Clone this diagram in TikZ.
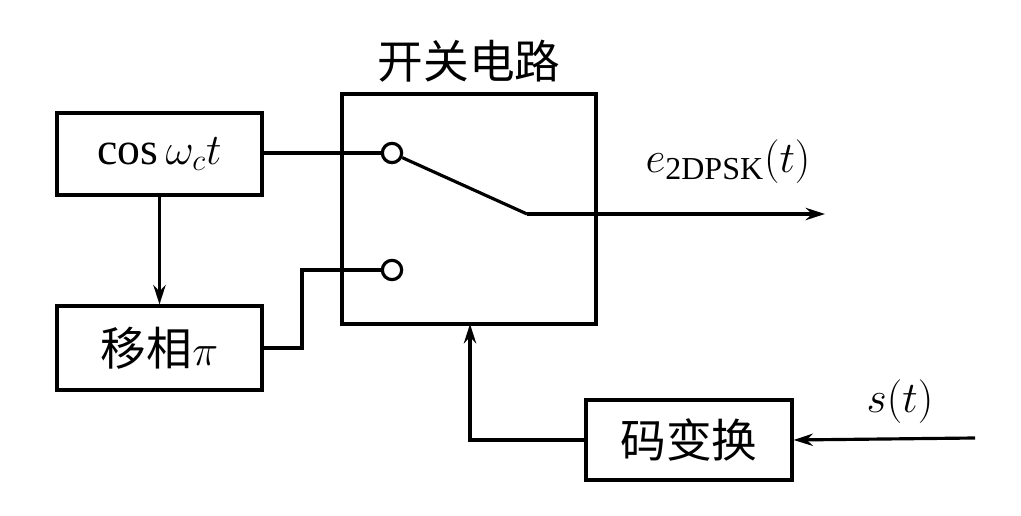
\documentclass[tikz,border=0pt]{standalone}
\usepackage{fontspec}
\setmainfont{Liberation Serif}
\newfontfamily\cjk{Noto Sans CJK SC}
\usetikzlibrary{positioning,arrows.meta}
\tikzset{
  blk/.style={draw, line width=1.8pt, inner sep=0pt},
  wire/.style={line width=1.8pt},
  sig/.style={line width=1.8pt, -{Stealth[length=11pt,width=7pt]}},
  contact/.style={circle, draw, line width=1.8pt, fill=white, minimum size=11pt, inner sep=0pt},
  lbl/.style={font=\fontsize{26}{30}\selectfont}
}
\begin{document}
\begin{tikzpicture}[x=0.02cm,y=-0.02cm]
\useasboundingbox (0,0) rectangle (1021,516);

% Blocks
\node[blk, lbl, minimum width=205*0.02cm, minimum height=82*0.02cm] (carrier) at (159.5,154) {$\cos\omega_c t$};
\node[blk, lbl, minimum width=205*0.02cm, minimum height=84*0.02cm] (shift) at (159.5,348) {{\cjk 移相}$\pi$};
\node[blk, minimum width=254*0.02cm, minimum height=230*0.02cm] (switch) at (469,209) {};
\node[blk, lbl, minimum width=206*0.02cm, minimum height=80*0.02cm] (coder) at (689,440) {\cjk 码变换};
\node[lbl, above=2pt of switch] (title) {\cjk 开关电路};

% Switch contacts
\node[contact] (c1) at (392,153) {};
\node[contact] (c2) at (392,270) {};
\coordinate (pivot) at (527,214);
\coordinate (out) at (825,214);
\coordinate (in) at (975,438);
\draw[wire] (c1) -- (pivot);
\draw[sig] (pivot) -- (out);
\node[lbl, anchor=south] at (728,190) {$e_{\mathrm{2DPSK}}(t)$};

% Connections
\draw[wire] (carrier.east |- c1) -- (c1);
\draw[sig] (carrier) -- (shift);
\draw[wire] (shift.east) -- (302,348) -- (302,270) -- (c2);
\draw[sig] (coder.west) -- (470,440) -- (470,324);
\draw[sig] (in) -- (coder.east);
\node[lbl] at (900,402) {$s(t)$};
\end{tikzpicture}
\end{document}
